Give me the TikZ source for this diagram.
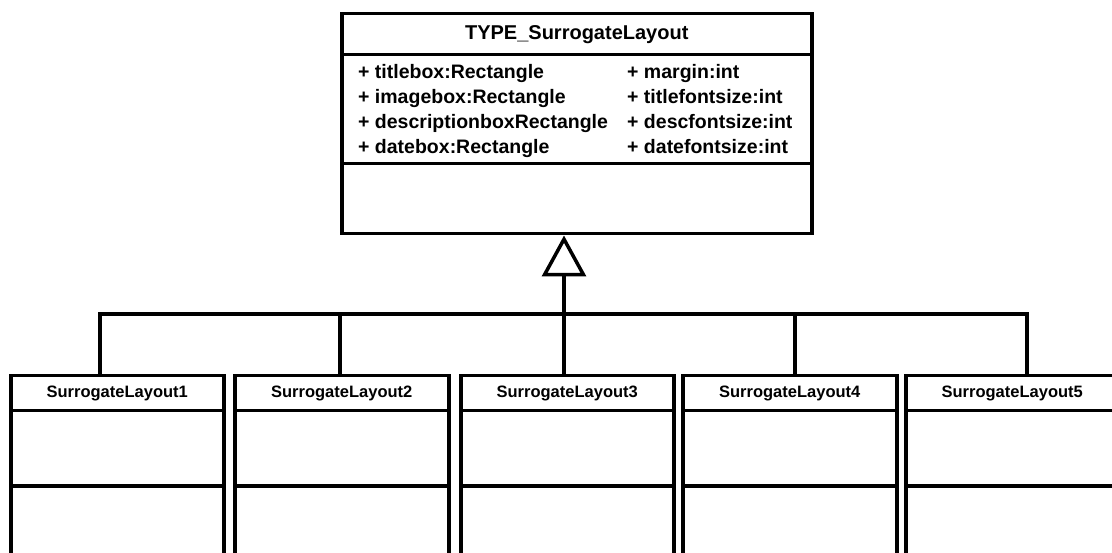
\documentclass[tikz,border=0pt]{standalone}
\usepackage{fontspec}
\setmainfont{Liberation Sans}
\usetikzlibrary{arrows.meta}

\tikzset{
  umlbox/.style={draw, line width=3.5pt, inner sep=0pt, anchor=north west,
    font=\bfseries\fontsize{16.5}{20}\selectfont},
  attr/.style={anchor=base west, inner sep=0pt,
    font=\bfseries\fontsize{19.5}{24}\selectfont},
  bus/.style={line width=3.5pt},
}

\begin{document}
\begin{tikzpicture}[x=1pt,y=-1pt]
  \useasboundingbox (0,0) rectangle (1112,553);

  % parent class
  \node[umlbox, minimum width=470pt, minimum height=41pt,
    font=\bfseries\fontsize{20}{24}\selectfont] (type) at (340,12) {TYPE\_SurrogateLayout};
  \node[umlbox, minimum width=470pt, minimum height=109pt] (typeattr) at (340,53) {};
  \node[umlbox, minimum width=470pt, minimum height=70pt] (typeops) at (340,162) {};

  \node[attr] (a1) at (358,79) {+ titlebox:Rectangle};
  \node[attr] (a2) at (358,104) {+ imagebox:Rectangle};
  \node[attr] (a3) at (358,129) {+ descriptionboxRectangle};
  \node[attr] (a4) at (358,154) {+ datebox:Rectangle};
  \node[attr] (b1) at (627,79) {+ margin:int};
  \node[attr] (b2) at (627,104) {+ titlefontsize:int};
  \node[attr] (b3) at (627,129) {+ descfontsize:int};
  \node[attr] (b4) at (627,154) {+ datefontsize:int};

  % subclasses
  \node[umlbox, minimum width=213pt, minimum height=35pt] (c1) at (9,374) {SurrogateLayout1};
  \node[umlbox, minimum width=213pt, minimum height=75pt] (c1attr) at (9,409) {};
  \node[umlbox, minimum width=213pt, minimum height=90pt] (c1ops) at (9,484) {};

  \node[umlbox, minimum width=214pt, minimum height=35pt] (c2) at (233,374) {SurrogateLayout2};
  \node[umlbox, minimum width=214pt, minimum height=75pt] (c2attr) at (233,409) {};
  \node[umlbox, minimum width=214pt, minimum height=90pt] (c2ops) at (233,484) {};

  \node[umlbox, minimum width=213pt, minimum height=35pt] (c3) at (459,374) {SurrogateLayout3};
  \node[umlbox, minimum width=213pt, minimum height=75pt] (c3attr) at (459,409) {};
  \node[umlbox, minimum width=213pt, minimum height=90pt] (c3ops) at (459,484) {};

  \node[umlbox, minimum width=214pt, minimum height=35pt] (c4) at (681,374) {SurrogateLayout4};
  \node[umlbox, minimum width=214pt, minimum height=75pt] (c4attr) at (681,409) {};
  \node[umlbox, minimum width=214pt, minimum height=90pt] (c4ops) at (681,484) {};

  \node[umlbox, minimum width=213pt, minimum height=35pt] (c5) at (904,374) {SurrogateLayout5};
  \node[umlbox, minimum width=213pt, minimum height=75pt] (c5attr) at (904,409) {};
  \node[umlbox, minimum width=213pt, minimum height=90pt] (c5ops) at (904,484) {};

  % generalization
  \coordinate (j1) at (100,314);
  \coordinate (j2) at (340,314);
  \coordinate (j3) at (564,314);
  \coordinate (j4) at (795,314);
  \coordinate (j5) at (1027,314);

  \draw[bus] (c1.north -| j1) -- (j1) -- (j5) -- (c5.north -| j5);
  \draw[bus] (j2) -- (c2.north -| j2);
  \draw[bus] (j4) -- (c4.north -| j4);
  \draw[bus] (c3.north -| j3) -- (j3);
  \draw[bus, -{Triangle[open, length=41pt, width=44pt]}] (j3) -- (typeops.south -| j3);
\end{tikzpicture}
\end{document}
